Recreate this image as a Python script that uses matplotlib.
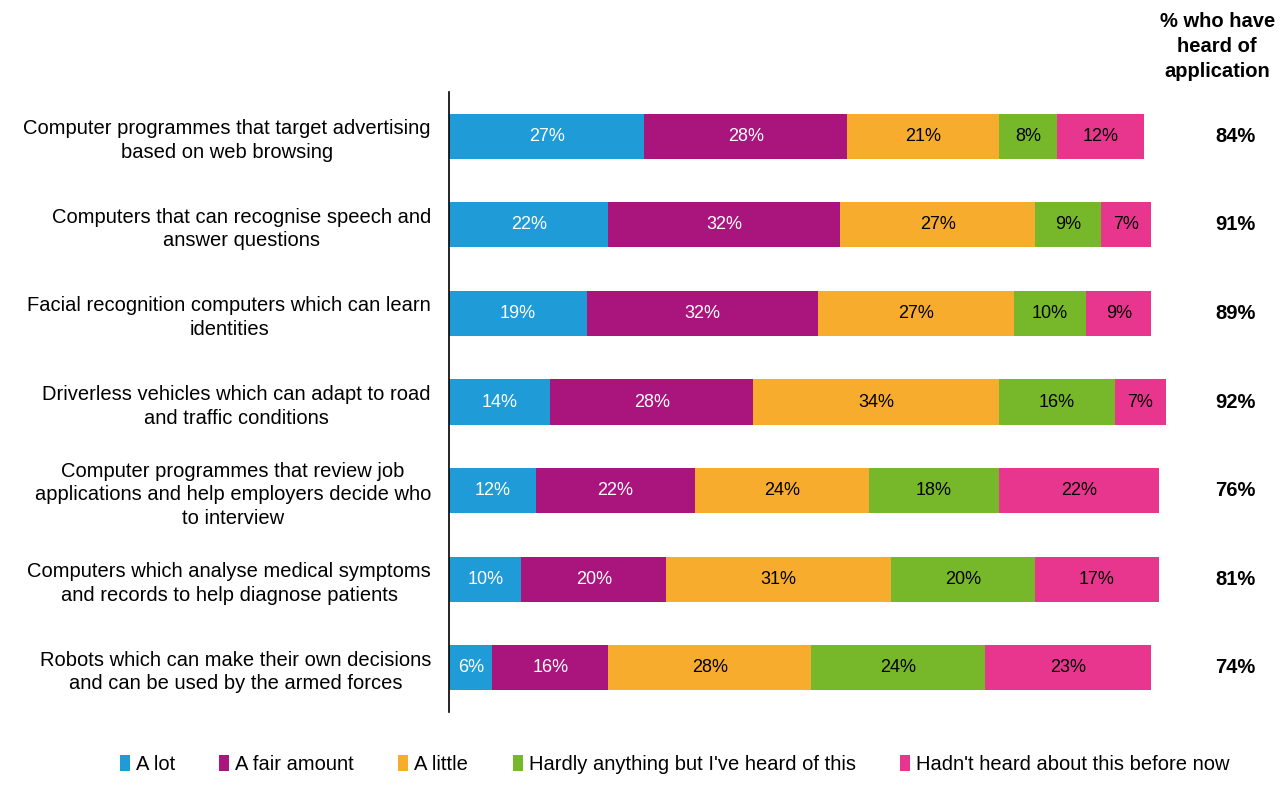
import numpy as np
import matplotlib.pyplot as plt
from matplotlib.patches import Patch

plt.rcParams['font.family'] = ['Liberation Sans', 'DejaVu Sans']

categories = [
    "Computer programmes that target advertising\nbased on web browsing",
    "Computers that can recognise speech and\nanswer questions",
    "Facial recognition computers which can learn\nidentities",
    "Driverless vehicles which can adapt to road\nand traffic conditions",
    "Computer programmes that review job\napplications and help employers decide who\nto interview",
    "Computers which analyse medical symptoms\nand records to help diagnose patients",
    "Robots which can make their own decisions\nand can be used by the armed forces",
]
series_names = ["A lot", "A fair amount", "A little",
                "Hardly anything but I've heard of this",
                "Hadn't heard about this before now"]
a_lot = [27, 22, 19, 14, 12, 10, 6]
fair_amount = [28, 32, 32, 28, 22, 20, 16]
a_little = [21, 27, 27, 34, 24, 31, 28]
hardly = [8, 9, 10, 16, 18, 20, 24]
not_heard = [12, 7, 9, 7, 22, 17, 23]
heard_of = [84, 91, 89, 92, 76, 81, 74]

series = [a_lot, fair_amount, a_little, hardly, not_heard]
colors = ['#1F9BD7', '#A9157D', '#F8AC2E', '#76B82A', '#E8368F']
text_colors = ['white', 'white', 'black', 'black', 'black']

fig = plt.figure(figsize=(12.85, 7.86), dpi=100)
ax = fig.add_axes([449 / 1285, 1 - 712 / 786, 724 / 1285, 620 / 786])

y = np.arange(len(categories))
left = np.zeros(len(categories))
for vals, c, tc in zip(series, colors, text_colors):
    vals = np.array(vals, dtype=float)
    ax.barh(y, vals, left=left, height=0.51, color=c, edgecolor='none')
    for yi, l, v in zip(y, left, vals):
        ax.text(l + v / 2, yi, f"{int(v)}%", ha='center', va='center',
                color=tc, fontsize=13)
    left += vals

# right-hand column: % who have heard of application
for yi, h in zip(y, heard_of):
    ax.text(108.6, yi, f"{h}%", ha='center', va='center', fontsize=14.5,
            fontweight='bold', clip_on=False)
ax.text(106.1, -0.62, "% who have\nheard of\napplication", ha='center', va='bottom',
        fontsize=14.5, fontweight='bold', linespacing=1.42, clip_on=False)

ax.set_xlim(0, 100)
ax.set_ylim(len(categories) - 0.5, -0.5)
ax.set_yticks(y)
ax.set_yticklabels(categories, fontsize=14.5, multialignment='center',
                   linespacing=1.3)
ax.tick_params(axis='y', length=0, pad=13)
ax.set_xticks([])
for s in ['top', 'right', 'bottom']:
    ax.spines[s].set_visible(False)
ax.spines['left'].set_color('black')
ax.spines['left'].set_linewidth(1.2)

handles = [Patch(facecolor=c, edgecolor='none') for c in colors]
fig.legend(handles, series_names, loc='lower center', ncol=5, frameon=False,
           fontsize=14.5, bbox_to_anchor=(0.525, -0.008), handlelength=0.5,
           handleheight=0.8, handletextpad=0.3, columnspacing=2.2)

fig.savefig('out.png', dpi=100)
